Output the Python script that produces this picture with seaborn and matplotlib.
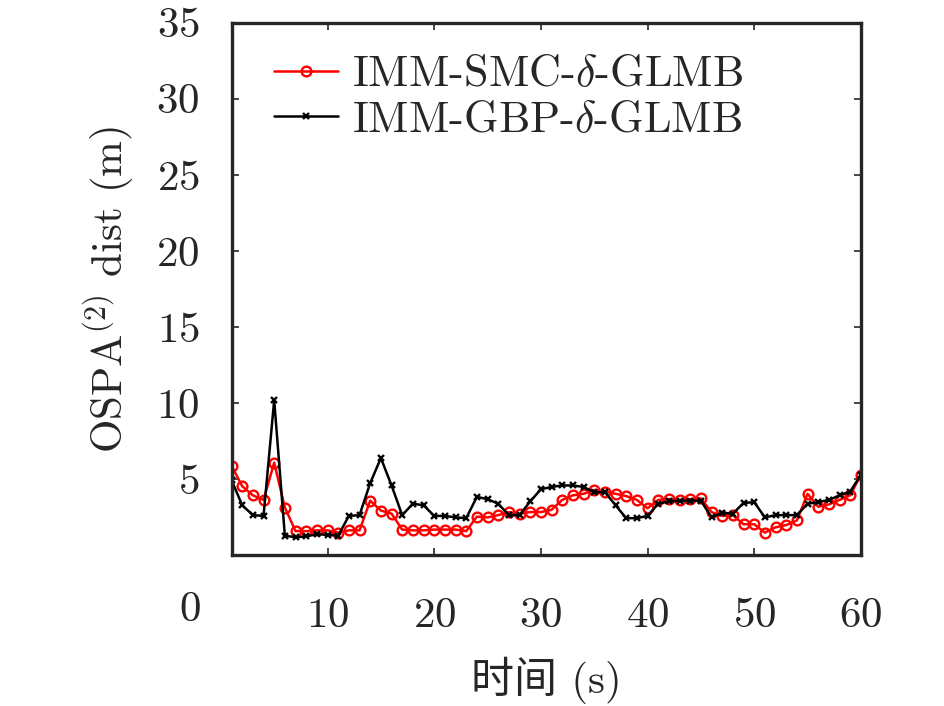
import numpy as np
import pandas as pd
import seaborn as sns
import matplotlib
matplotlib.use("Agg")
import matplotlib.pyplot as plt

# data
t = list(range(1, 61))
smc = [5.9, 4.55, 3.95, 3.65, 6.1, 3.15, 1.6, 1.6, 1.65, 1.65,
       1.5, 1.65, 1.65, 3.6, 2.95, 2.75, 1.7, 1.65, 1.65, 1.7,
       1.7, 1.7, 1.6, 2.55, 2.5, 2.65, 2.85, 2.75, 2.85, 2.85,
       3.0, 3.65, 3.95, 4.05, 4.3, 4.2, 4.05, 3.9, 3.65, 3.1,
       3.65, 3.7, 3.65, 3.7, 3.75, 2.85, 2.6, 2.65, 2.05, 2.05,
       1.5, 1.85, 2.0, 2.3, 4.05, 3.2, 3.35, 3.65, 3.95, 5.3]
gbp = [4.95, 3.3, 2.65, 2.6, 10.2, 1.3, 1.2, 1.25, 1.4, 1.35,
       1.3, 2.6, 2.65, 4.75, 6.4, 4.6, 2.65, 3.4, 3.3, 2.6,
       2.6, 2.5, 2.45, 3.85, 3.7, 3.4, 2.65, 2.65, 3.55, 4.35,
       4.5, 4.6, 4.6, 4.5, 4.15, 4.15, 3.3, 2.45, 2.45, 2.6,
       3.4, 3.55, 3.6, 3.6, 3.6, 2.5, 2.8, 2.75, 3.45, 3.5,
       2.5, 2.65, 2.65, 2.65, 3.4, 3.5, 3.65, 3.95, 4.2, 5.3]
labels = [r"IMM-SMC-$\delta$-GLMB", r"IMM-GBP-$\delta$-GLMB"]
xticks = [10, 20, 30, 40, 50, 60]
yticks = [5, 10, 15, 20, 25, 30, 35]

sns.set_style("ticks")
plt.rcParams['font.family'] = ['cmr10', 'Noto Sans CJK SC']
plt.rcParams['mathtext.fontset'] = 'cm'
plt.rcParams['axes.unicode_minus'] = False
plt.rcParams['axes.formatter.use_mathtext'] = True

fs = 31
df = pd.DataFrame({'t': t, 'smc': smc, 'gbp': gbp})

fig = plt.figure(figsize=(9.45, 7.06), dpi=100)
ax = fig.add_axes([0.245, 0.2132, 0.666, 0.7549])

sns.lineplot(data=df, x='t', y='smc', ax=ax, color='red', lw=1.8,
             marker='o', markersize=7, mfc='none', mec='red', mew=1.7,
             label=labels[0])
sns.lineplot(data=df, x='t', y='gbp', ax=ax, color='black', lw=1.8,
             marker='x', markersize=5, mec='black', mew=1.7,
             label=labels[1])

ax.set_xlim(1, 60)
ax.set_ylim(0, 35)
ax.set_xticks(xticks)
ax.set_yticks(yticks)
ax.tick_params(direction='in', length=5, width=1.2, top=True, right=True,
               labelsize=fs)
ax.tick_params(axis='x', pad=30)
ax.tick_params(axis='y', pad=23)
for s in ax.spines.values():
    s.set_linewidth(2.4)

# the origin label sits alone at the corner
ax.text(-0.066, -0.102, "0", transform=ax.transAxes, fontsize=fs,
        ha='center', va='center')

ax.set_xlabel("时间 (s)", fontsize=fs, labelpad=16)
ax.set_ylabel(r"OSPA$^{(2)}$ dist (m)", fontsize=fs, labelpad=14)

ax.legend(loc='upper left', frameon=False, fontsize=31.8, handlelength=1.45,
          handletextpad=0.3, labelspacing=0.13, borderaxespad=0.3,
          bbox_to_anchor=(0.019, 0.997))

fig.savefig("out.png", dpi=100)
